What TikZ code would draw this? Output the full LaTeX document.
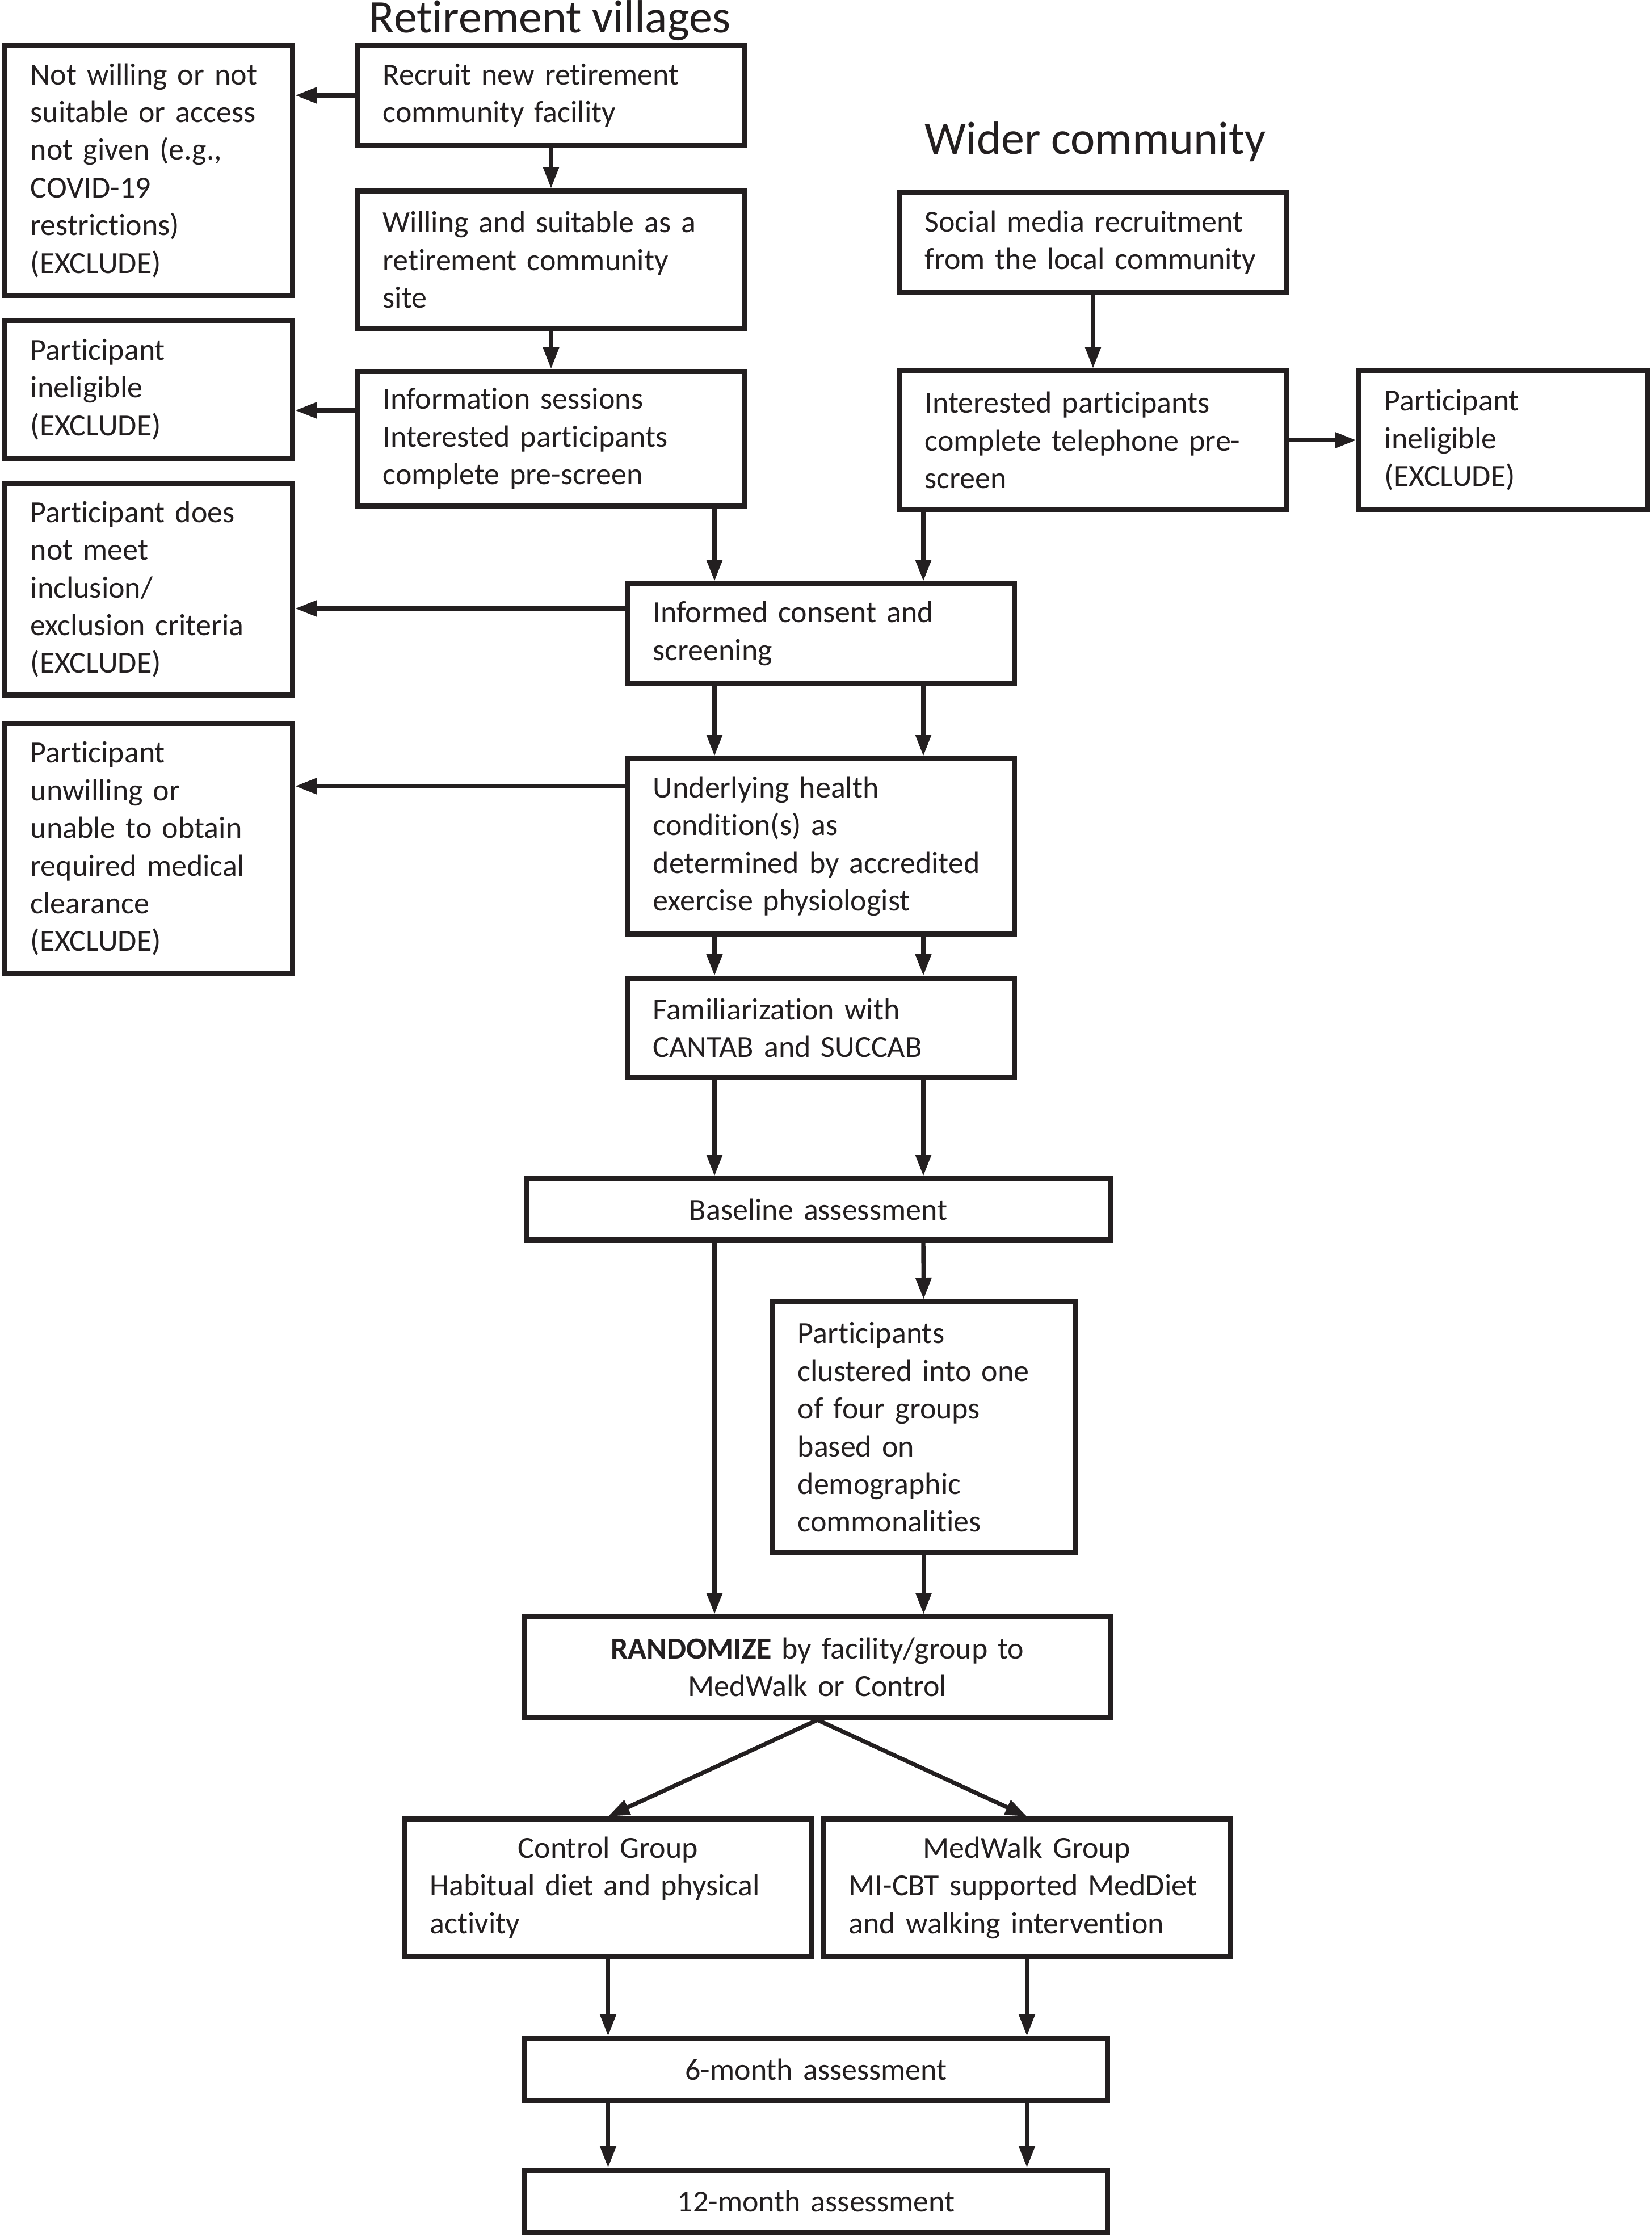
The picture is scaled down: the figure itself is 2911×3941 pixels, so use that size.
\documentclass[tikz,border=0pt]{standalone}
\usepackage{fontspec}
\setmainfont{Carlito}[Ligatures=NoCommon]
\usetikzlibrary{arrows.meta}
\definecolor{ink}{RGB}{35,31,32}
\tikzset{
  box/.style={draw=ink, text=ink, line width=2.25pt, rectangle, inner xsep=11.3pt, inner ysep=0pt, align=left, font=\fontsize{13.5}{16.6}\selectfont},
  cbox/.style={box, align=center},
  arr/.style={draw=ink, line width=1.85pt, -{Triangle[length=9.5pt,width=6.75pt]}},
  ttl/.style={text=ink, font=\fontsize{20.5}{24}\selectfont, anchor=base, inner sep=0pt},
}
\newcommand\bx[7][box]{%
  \pgfmathsetmacro\bxcx{(#3+#5)/2}%
  \pgfmathsetmacro\bxcy{(#4+#6)/2}%
  \pgfmathsetmacro\bxww{(#5-#3-9)*0.25}%
  \pgfmathsetmacro\bxhh{(#6-#4-9)*0.25}%
  \pgfmathsetmacro\bxtw{\bxww-2*11.3}%
  \node[#1, minimum width=\bxww pt, minimum height=\bxhh pt, text width=\bxtw pt] (#2) at (\bxcx,\bxcy) {#7};%
}
\begin{document}
\begin{tikzpicture}[x=0.25pt,y=-0.25pt]
\fill[white] (0,0) rectangle (2911,3941);
\useasboundingbox (0,0) rectangle (2911,3941);
\node[ttl] (t1) at (969,57) {Retirement villages};
\node[ttl] (t2) at (1930,271) {Wider community};

\bx{recruit}{625}{75}{1317}{261}{\mbox{Recruit new retirement}\\\mbox{community facility}}
\bx{notwilling}{4}{75}{520}{525}{\mbox{Not willing or not}\\\mbox{suitable or access}\\\mbox{not given (e.g.,}\\\mbox{COVID-19}\\\mbox{restrictions)}\\\mbox{(EXCLUDE)}}
\bx{willing}{625}{332}{1317}{583}{\mbox{Willing and suitable as a}\\\mbox{retirement community}\\\mbox{site}}
\bx{inel1}{4}{560}{520}{812}{\mbox{Participant}\\\mbox{ineligible}\\\mbox{(EXCLUDE)}}
\bx{info}{625}{650}{1317}{896}{\mbox{Information sessions}\\\mbox{Interested participants}\\\mbox{complete pre-screen}}
\bx{social}{1580}{334}{2272}{520}{\mbox{Social media recruitment}\\\mbox{from the local community}}
\bx{interested}{1580}{649}{2272}{902}{\mbox{Interested participants}\\\mbox{complete telephone pre-}\\\mbox{screen}}
\bx{inel2}{2390}{649}{2908}{902}{\mbox{Participant}\\\mbox{ineligible}\\\mbox{(EXCLUDE)}}
\bx{notmeet}{4}{847}{520}{1229}{\mbox{Participant does}\\\mbox{not meet}\\\mbox{inclusion/}\\\mbox{exclusion criteria}\\\mbox{(EXCLUDE)}}
\bx{informed}{1101}{1024}{1792}{1208}{\mbox{Informed consent and}\\\mbox{screening}}
\bx{unwilling}{4}{1270}{520}{1720}{\mbox{Participant}\\\mbox{unwilling or}\\\mbox{unable to obtain}\\\mbox{required medical}\\\mbox{clearance}\\\mbox{(EXCLUDE)}}
\bx{underlying}{1101}{1332}{1792}{1650}{\mbox{Underlying health}\\\mbox{condition(s) as}\\\mbox{determined by accredited}\\\mbox{exercise physiologist}}
\bx{famil}{1101}{1719}{1792}{1903}{\mbox{Familiarization with}\\\mbox{CANTAB and SUCCAB}}
\bx[cbox]{baseline}{923}{2072}{1961}{2189}{Baseline assessment}
\bx{clustered}{1356}{2289}{1899}{2740}{\mbox{Participants}\\\mbox{clustered into one}\\\mbox{of four groups}\\\mbox{based on}\\\mbox{demographic}\\\mbox{commonalities}}
\bx[cbox]{randomize}{920}{2844}{1961}{3030}{\mbox{\textbf{RANDOMIZE} by facility/group to}\\\mbox{MedWalk or Control}}
\bx{control}{708}{3200}{1435}{3451}{{\centering Control Group\par}\mbox{Habitual diet and physical}\\\mbox{activity}}
\bx{medwalk}{1446}{3200}{2173}{3451}{{\centering MedWalk Group\par}\mbox{MI-CBT supported MedDiet}\\\mbox{and walking intervention}}
\bx[cbox]{six}{920}{3587}{1956}{3705}{6-month assessment}
\bx[cbox]{twelve}{920}{3819}{1956}{3937}{12-month assessment}

\coordinate (ca) at (1259,0);
\coordinate (cb) at (1627,0);
\coordinate (r2) at (0,723);
\coordinate (r3) at (0,1072);
\coordinate (r4) at (0,1385);

\draw[arr] (recruit.west) -- (recruit.west -| notwilling.east);
\draw[arr] (recruit.south) -- (willing.north);
\draw[arr] (willing.south) -- (info.north);
\draw[arr] (info.west |- r2) -- (inel1.east |- r2);
\draw[arr] (social.south) -- (interested.north);
\draw[arr] (interested.east) -- (interested.east -| inel2.west);
\draw[arr] (info.south -| ca) -- (informed.north -| ca);
\draw[arr] (interested.south -| cb) -- (informed.north -| cb);
\draw[arr] (informed.west |- r3) -- (notmeet.east |- r3);
\draw[arr] (informed.south -| ca) -- (underlying.north -| ca);
\draw[arr] (informed.south -| cb) -- (underlying.north -| cb);
\draw[arr] (underlying.west |- r4) -- (unwilling.east |- r4);
\draw[arr] (underlying.south -| ca) -- (famil.north -| ca);
\draw[arr] (underlying.south -| cb) -- (famil.north -| cb);
\draw[arr] (famil.south -| ca) -- (baseline.north -| ca);
\draw[arr] (famil.south -| cb) -- (baseline.north -| cb);
\draw[arr] (baseline.south -| ca) -- (randomize.north -| ca);
\draw[arr] (baseline.south -| cb) -- (clustered.north);
\draw[arr] (clustered.south) -- (randomize.north -| clustered.south);
\draw[arr] (randomize.south) -- (control.north);
\draw[arr] (randomize.south) -- (medwalk.north);
\draw[arr] (control.south) -- (six.north -| control.south);
\draw[arr] (medwalk.south) -- (six.north -| medwalk.south);
\draw[arr] (six.south -| control.south) -- (twelve.north -| control.south);
\draw[arr] (six.south -| medwalk.south) -- (twelve.north -| medwalk.south);
\end{tikzpicture}
\end{document}
